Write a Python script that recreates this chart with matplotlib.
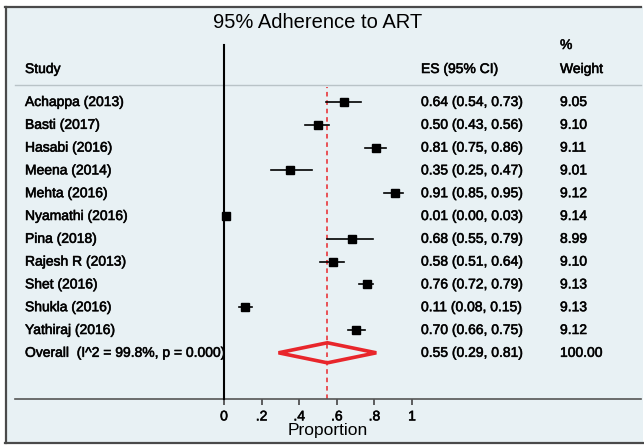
import matplotlib
matplotlib.use("Agg")
import matplotlib.pyplot as plt
import matplotlib.patheffects as pe
from matplotlib.patches import Polygon, Rectangle
from matplotlib.lines import Line2D

plt.rcParams['font.family'] = ['Liberation Sans', 'DejaVu Sans']

studies = ["Achappa (2013)", "Basti (2017)", "Hasabi (2016)", "Meena (2014)",
           "Mehta (2016)", "Nyamathi (2016)", "Pina (2018)", "Rajesh R (2013)",
           "Shet (2016)", "Shukla (2016)", "Yathiraj (2016)"]
es = [0.64, 0.50, 0.81, 0.35, 0.91, 0.01, 0.68, 0.58, 0.76, 0.11, 0.70]
ci_lo = [0.54, 0.43, 0.75, 0.25, 0.85, 0.00, 0.55, 0.51, 0.72, 0.08, 0.66]
ci_hi = [0.73, 0.56, 0.86, 0.47, 0.95, 0.03, 0.79, 0.64, 0.79, 0.15, 0.75]
weights = [9.05, 9.10, 9.11, 9.01, 9.12, 9.14, 8.99, 9.10, 9.13, 9.13, 9.12]

overall_label = "Overall  (I^2 = 99.8%, p = 0.000)"
overall_es = 0.55
overall_lo = 0.29
overall_hi = 0.81
overall_weight = 100.00

xticks = [0, 0.2, 0.4, 0.6, 0.8, 1]
xtick_labels = ["0", ".2", ".4", ".6", ".8", "1"]

W, H = 644, 445
bg = "#e8f1f4"
red = "#e8262b"
# slightly heavier text, like the scanned original
heavy = [pe.withStroke(linewidth=0.45, foreground="#1a1a1a")]

fig = plt.figure(figsize=(W / 100, H / 100), dpi=100)
fig.patch.set_facecolor("white")

# panel background and frame (left, top, bottom)
fig.add_artist(Rectangle((5 / W, 1 - 443 / H), (643 - 5) / W, (443 - 7) / H,
                         transform=fig.transFigure, facecolor=bg, edgecolor="none", zorder=0))
frame_kw = dict(transform=fig.transFigure, color="#4a4a4a", lw=1.6, zorder=1)
fig.add_artist(Line2D([5.5 / W, 5.5 / W], [1 - 7 / H, 1 - 443 / H], **frame_kw))
fig.add_artist(Line2D([5 / W, 641 / W], [1 - 7 / H, 1 - 7 / H], **frame_kw))
fig.add_artist(Line2D([5 / W, 643 / W], [1 - 443 / H, 1 - 443 / H], **frame_kw))

# axes spans header line (px 85) to axis line (px 399)
x0_px, x1_px, top_px, bot_px = 15, 641, 85, 399
ax = fig.add_axes([x0_px / W, 1 - bot_px / H, (x1_px - x0_px) / W, (bot_px - top_px) / H])
ax.set_facecolor("none")

zero_px, unit_px = 224, 188
row0_px, step_px = 102, 22.8


def px2x(px):
    return (px - zero_px) / unit_px


def px2y(py):
    return (py - row0_px) / step_px


ax.set_xlim(px2x(x0_px), px2x(x1_px))
ax.set_ylim(px2y(bot_px), px2y(top_px))

for s in ["left", "right"]:
    ax.spines[s].set_visible(False)
ax.spines["top"].set_color("#b9c3c7")
ax.spines["bottom"].set_color("#555555")
ax.spines["top"].set_linewidth(1.0)
ax.spines["bottom"].set_linewidth(1.2)
ax.set_yticks([])
ax.set_xticks(xticks)
ax.set_xticklabels(xtick_labels, fontsize=10)
for lab in ax.get_xticklabels():
    lab.set_path_effects(heavy)
ax.tick_params(axis="x", direction="out", length=4, width=1.2, color="#444444", pad=3.5)
ax.set_xlabel("Proportion", fontsize=12.5, labelpad=0)

# null line and pooled estimate line
ax.axvline(0, ymin=0, ymax=(bot_px - 45) / (bot_px - top_px), color="black", lw=1.5,
           clip_on=False, zorder=3)
ax.axvline(overall_es, ymin=0, ymax=(bot_px - 87) / (bot_px - top_px), color=red, lw=1.1,
           dashes=(3, 2.5), zorder=2)

rows = list(range(len(studies)))
for r, e, lo, hi, w in zip(rows, es, ci_lo, ci_hi, weights):
    ax.plot([lo, hi], [r, r], color="black", lw=1.2, zorder=4)
    ax.plot(e, r, marker="s", color="black", markersize=5.3 * (w / 9.1) ** 0.5, zorder=5)

ov_row = len(studies)
diamond = Polygon([[overall_lo, ov_row], [overall_es, ov_row - 0.44],
                   [overall_hi, ov_row], [overall_es, ov_row + 0.44]],
                  closed=True, fill=False, edgecolor=red, lw=2.6, zorder=4)
ax.add_patch(diamond)

fs = 10
tkw = dict(fontsize=fs, va="center", ha="left", path_effects=heavy)
x_study, x_es, x_wt = px2x(25), px2x(421), px2x(560)
for r, name, e, lo, hi, w in zip(rows, studies, es, ci_lo, ci_hi, weights):
    ax.text(x_study, r, name, **tkw)
    ax.text(x_es, r, f"{e:.2f} ({lo:.2f}, {hi:.2f})", **tkw)
    ax.text(x_wt, r, f"{w:.2f}", **tkw)

ax.text(x_study, ov_row, overall_label, zorder=2, **tkw)
ax.text(x_es, ov_row, f"{overall_es:.2f} ({overall_lo:.2f}, {overall_hi:.2f})", **tkw)
ax.text(x_wt, ov_row, f"{overall_weight:.2f}", **tkw)

# column headers
ax.text(x_study, px2y(69), "Study", clip_on=False, **tkw)
ax.text(x_es, px2y(69), "ES (95% CI)", clip_on=False, **tkw)
ax.text(x_wt, px2y(69), "Weight", clip_on=False, **tkw)
ax.text(x_wt, px2y(45), "%", clip_on=False, **tkw)

fig.text(318 / W, 1 - 22.5 / H, "95% Adherence to ART", fontsize=14.5, ha="center", va="center")

fig.savefig("out.png", dpi=100, facecolor=fig.get_facecolor())
